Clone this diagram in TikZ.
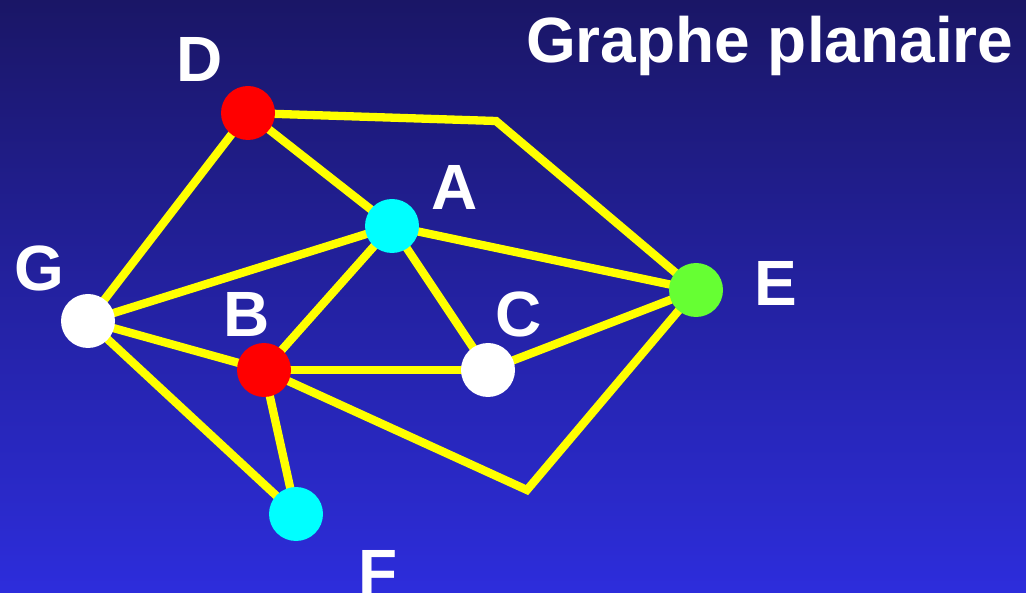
\documentclass[tikz,border=0pt]{standalone}
\usepackage{fontspec}
\setmainfont{Liberation Sans}
\definecolor{bgtop}{RGB}{26,22,102}
\definecolor{bgbot}{RGB}{45,45,220}
\definecolor{edgeyellow}{RGB}{255,255,0}
\definecolor{vred}{RGB}{255,0,0}
\definecolor{vcyan}{RGB}{0,255,255}
\definecolor{vgreen}{RGB}{102,255,51}
\begin{document}
\begin{tikzpicture}[x=1pt,y=-1pt,
  vertex/.style={circle,minimum size=54pt,inner sep=0pt,draw=none},
  edge/.style={draw=edgeyellow,line width=8.3pt},
  lbl/.style={text=white,font=\fontsize{64}{64}\selectfont\bfseries,inner sep=0pt,anchor=base}]
\useasboundingbox (0,0) rectangle (1026,593);
\shade[top color=bgtop,bottom color=bgbot] (0,0) rectangle (1026,593);
\node[lbl,anchor=base west] (title) at (526,63) {Graphe planaire};
% vertex coordinates
\coordinate (pD) at (248,113);
\coordinate (pA) at (392,226);
\coordinate (pG) at (88,321);
\coordinate (pB) at (264,370);
\coordinate (pC) at (488,370);
\coordinate (pE) at (696,290);
\coordinate (pF) at (296,514);
\coordinate (k1) at (496,121);
\coordinate (k2) at (527,490);
% edges
\draw[edge] (pD) -- (k1) -- (pE);
\draw[edge] (pB) -- (k2) -- (pE);
\draw[edge] (pD) -- (pA);
\draw[edge] (pD) -- (pG);
\draw[edge] (pG) -- (pA);
\draw[edge] (pG) -- (pB);
\draw[edge] (pG) -- (pF);
\draw[edge] (pA) -- (pB);
\draw[edge] (pA) -- (pC);
\draw[edge] (pA) -- (pE);
\draw[edge] (pB) -- (pC);
\draw[edge] (pB) -- (pF);
\draw[edge] (pC) -- (pE);
% vertices
\node[vertex,fill=vred] (D) at (pD) {};
\node[vertex,fill=vcyan] (A) at (pA) {};
\node[vertex,fill=white] (G) at (pG) {};
\node[vertex,fill=vred] (B) at (pB) {};
\node[vertex,fill=white] (C) at (pC) {};
\node[vertex,fill=vgreen] (E) at (pE) {};
\node[vertex,fill=vcyan] (F) at (pF) {};
% labels
\node[lbl] (lD) at (200,82) {D};
\node[lbl] (lA) at (455,210) {A};
\node[lbl] (lG) at (39,291) {G};
\node[lbl] (lB) at (247,337) {B};
\node[lbl] (lC) at (519,337) {C};
\node[lbl] (lE) at (776,306) {E};
\node[lbl] (lF) at (378,594) {F};
\end{tikzpicture}
\end{document}
